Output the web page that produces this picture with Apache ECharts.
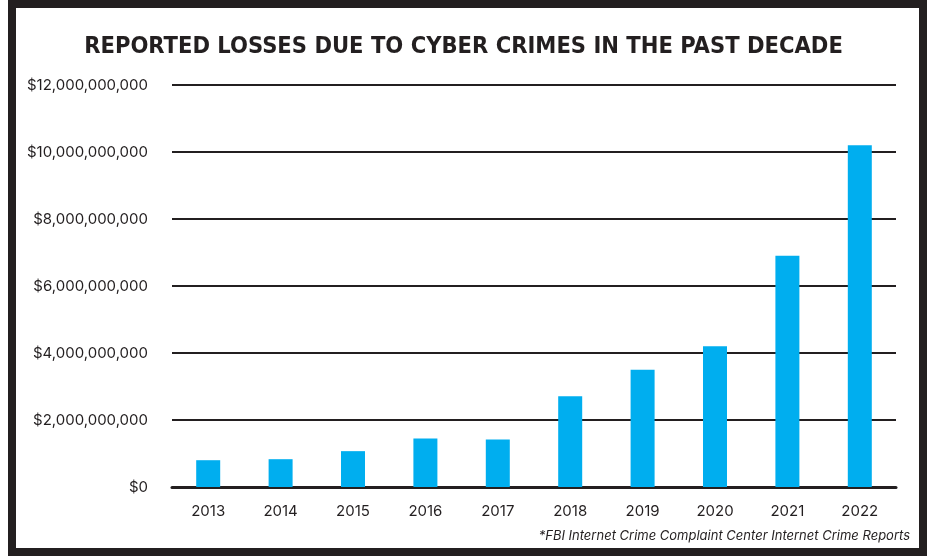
<!DOCTYPE html>
<html><head><meta charset="utf-8">
<script src="https://cdn.jsdelivr.net/npm/echarts@6/dist/echarts.min.js"></script>
<style>html,body{margin:0;padding:0;background:#fff}#c{width:927px;height:558px}</style>
</head><body><div id="c"></div>
<script>
const years = ['2013','2014','2015','2016','2017','2018','2019','2020','2021','2022'];
const losses = [800000000, 830000000, 1070000000, 1450000000, 1420000000, 2710000000, 3500000000, 4200000000, 6900000000, 10200000000];
const titleText = 'REPORTED LOSSES DUE TO CYBER CRIMES IN THE PAST DECADE';
const sourceText = '*FBI Internet Crime Complaint Center Internet Crime Reports';
const ink = '#231f20';
const chart = echarts.init(document.getElementById('c'), null, {renderer:'canvas'});
chart.setOption({
  animation:false,
  backgroundColor:'#fff',
  title:{text:titleText, left:'center', top:30, textStyle:{fontFamily:'DejaVu Sans Condensed', fontWeight:'bold', fontSize:23.5, color:ink}},
  graphic:[
    {type:'rect', shape:{x:12, y:4, width:911, height:548}, style:{fill:'none', stroke:ink, lineWidth:8}, z:100},
    {type:'text', right:17, top:530, style:{text:sourceText, font:'italic 13px Inter', fill:ink}}
  ],
  grid:{left:172, right:31, top:85, bottom:71},
  xAxis:{type:'category', data:years, axisTick:{show:false},
    axisLine:{lineStyle:{color:ink, width:3}},
    axisLabel:{color:ink, fontSize:15, fontFamily:'Inter', margin:17}},
  yAxis:{type:'value', min:0, max:12000000000, interval:2000000000,
    axisLine:{show:false}, axisTick:{show:false},
    splitLine:{lineStyle:{color:ink, width:2}},
    axisLabel:{color:ink, fontSize:15, fontFamily:'Inter', margin:24,
      formatter:v=>'$'+v.toLocaleString('en-US')}},
  series:[{type:'bar', data:losses, barWidth:24, itemStyle:{color:'#00aeef'}}]
});
</script></body></html>
